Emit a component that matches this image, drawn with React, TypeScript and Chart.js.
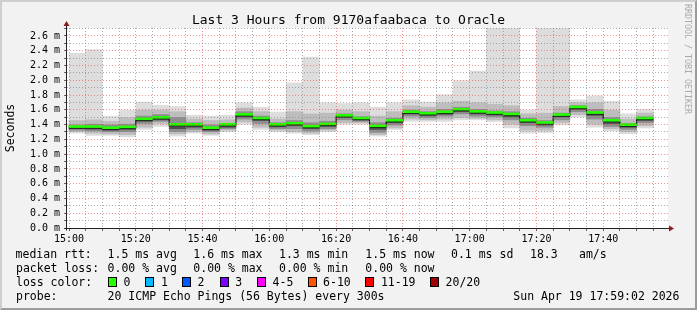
import React, { useEffect, useRef } from 'react';
import { Chart, registerables } from 'chart.js';

Chart.register(...registerables);

// 5-minute buckets (start times)
const buckets = [
  '15:00', '15:05', '15:10', '15:15', '15:20', '15:25', '15:30', '15:35', '15:40', '15:45',
  '15:50', '15:55', '16:00', '16:05', '16:10', '16:15', '16:20', '16:25', '16:30', '16:35',
  '16:40', '16:45', '16:50', '16:55', '17:00', '17:05', '17:10', '17:15', '17:20', '17:25',
  '17:30', '17:35', '17:40', '17:45', '17:50',
];

// round-trip times in milliseconds
const median = [1.355, 1.355, 1.34, 1.35, 1.46, 1.48, 1.385, 1.385, 1.34, 1.385, 1.52, 1.47, 1.385, 1.40, 1.36, 1.39, 1.507, 1.47, 1.365, 1.44, 1.555, 1.535, 1.555, 1.59, 1.56, 1.545, 1.525, 1.44, 1.41, 1.517, 1.62, 1.545, 1.44, 1.38, 1.47];
const pingMax = [2.37, 2.42, 1.52, 1.60, 1.71, 1.665, 1.65, 1.53, 1.52, 1.53, 1.70, 1.64, 1.575, 1.97, 2.32, 1.70, 1.69, 1.70, 1.64, 1.70, 1.74, 1.71, 1.81, 2.00, 2.13, 3.1, 3.2, 1.60, 3.0, 3.4, 1.74, 1.79, 1.72, 1.55, 1.61];
const p90 = [1.46, 1.47, 1.45, 1.50, 1.60, 1.60, 1.58, 1.48, 1.46, 1.47, 1.63, 1.58, 1.48, 1.58, 1.55, 1.56, 1.60, 1.58, 1.52, 1.58, 1.66, 1.64, 1.70, 1.72, 1.70, 1.68, 1.66, 1.55, 1.56, 1.65, 1.70, 1.70, 1.60, 1.48, 1.56];
const p75 = [1.40, 1.41, 1.40, 1.41, 1.52, 1.54, 1.50, 1.43, 1.40, 1.42, 1.58, 1.52, 1.43, 1.46, 1.43, 1.45, 1.55, 1.51, 1.43, 1.49, 1.60, 1.58, 1.61, 1.64, 1.61, 1.59, 1.58, 1.49, 1.46, 1.56, 1.66, 1.61, 1.50, 1.42, 1.51];
const p60 = [1.375, 1.375, 1.37, 1.37, 1.48, 1.50, 1.42, 1.40, 1.36, 1.40, 1.54, 1.49, 1.40, 1.42, 1.38, 1.41, 1.525, 1.49, 1.39, 1.46, 1.575, 1.555, 1.575, 1.61, 1.58, 1.565, 1.545, 1.46, 1.43, 1.535, 1.64, 1.57, 1.46, 1.40, 1.49];
const p40 = [1.34, 1.335, 1.32, 1.33, 1.44, 1.46, 1.34, 1.36, 1.32, 1.36, 1.50, 1.45, 1.365, 1.38, 1.34, 1.37, 1.49, 1.455, 1.33, 1.42, 1.54, 1.515, 1.535, 1.57, 1.54, 1.525, 1.50, 1.42, 1.39, 1.50, 1.60, 1.52, 1.41, 1.36, 1.45];
const p25 = [1.32, 1.31, 1.30, 1.30, 1.41, 1.44, 1.30, 1.33, 1.30, 1.34, 1.47, 1.41, 1.34, 1.34, 1.31, 1.34, 1.46, 1.44, 1.29, 1.39, 1.51, 1.49, 1.51, 1.54, 1.51, 1.50, 1.46, 1.38, 1.36, 1.46, 1.57, 1.47, 1.37, 1.33, 1.42];
const p10 = [1.30, 1.28, 1.27, 1.26, 1.36, 1.41, 1.27, 1.30, 1.27, 1.32, 1.43, 1.36, 1.32, 1.30, 1.28, 1.32, 1.42, 1.42, 1.26, 1.35, 1.47, 1.46, 1.47, 1.49, 1.48, 1.46, 1.40, 1.32, 1.32, 1.42, 1.53, 1.40, 1.34, 1.30, 1.38];
const pingMin = [1.28, 1.25, 1.25, 1.23, 1.33, 1.37, 1.24, 1.28, 1.25, 1.30, 1.40, 1.33, 1.30, 1.28, 1.26, 1.30, 1.40, 1.40, 1.24, 1.33, 1.44, 1.44, 1.44, 1.46, 1.46, 1.44, 1.35, 1.28, 1.29, 1.39, 1.50, 1.36, 1.31, 1.27, 1.35];

const xTickLabels = ['15:00', '15:20', '15:40', '16:00', '16:20', '16:40', '17:00', '17:20', '17:40'];
const yTickLabels = ['0.0 m', '0.2 m', '0.4 m', '0.6 m', '0.8 m', '1.0 m', '1.2 m', '1.4 m', '1.6 m', '1.8 m', '2.0 m', '2.2 m', '2.4 m', '2.6 m'];

const title = 'Last 3 Hours from 9170afaabaca to Oracle';
const rttLegend = ['1.5 ms avg', '1.6 ms max', '1.3 ms min', '1.5 ms now', '0.1 ms sd', '18.3', 'am/s'];
const lossLegend = ['0.00 % avg', '0.00 % max', '0.00 % min', '0.00 % now'];
const lossLabels = ['0', '1', '2', '3', '4-5', '6-10', '11-19', '20/20'];
const lossColors = ['#26ff00', '#00b8ff', '#0059ff', '#7e00ff', '#ff00ff', '#ff5500', '#ff0000', '#a10000'];
const probeText = '20 ICMP Echo Pings (56 Bytes) every 300s';
const dateText = 'Sun Apr 19 17:59:02 2026';
const watermark = 'RRDTOOL / TOBI OETIKER';

const FONT = '"DejaVu Sans Mono", monospace';

const rrdPlugin = {
  id: 'rrdFrame',
  beforeDraw(chart: any) {
    const { ctx, chartArea: a } = chart;
    ctx.save();
    ctx.fillStyle = '#ffffff';
    ctx.fillRect(a.left, a.top, a.right - a.left, a.bottom - a.top);
    ctx.restore();
  },
  afterDraw(chart: any) {
    const { ctx, chartArea: a } = chart;
    const x0 = Math.round(a.left) - 0.5;
    const y0 = Math.round(a.bottom) + 0.5;
    ctx.save();
    ctx.strokeStyle = '#222';
    ctx.lineWidth = 1;
    ctx.beginPath();
    ctx.moveTo(x0, y0 + 2);
    ctx.lineTo(x0, a.top - 3);
    ctx.moveTo(x0 - 2, y0);
    ctx.lineTo(a.right + 3, y0);
    ctx.stroke();
    ctx.fillStyle = '#8b1a1a';
    ctx.beginPath();
    ctx.moveTo(x0 - 3, a.top - 2);
    ctx.lineTo(x0 + 3, a.top - 2);
    ctx.lineTo(x0, a.top - 7);
    ctx.closePath();
    ctx.fill();
    ctx.beginPath();
    ctx.moveTo(a.right + 1, y0 - 3);
    ctx.lineTo(a.right + 1, y0 + 3);
    ctx.lineTo(a.right + 6, y0);
    ctx.closePath();
    ctx.fill();
    ctx.restore();
  },
};

export default function App() {
  const ref = useRef<HTMLCanvasElement>(null);

  useEffect(() => {
    if (!ref.current) return;
    const minutes = buckets.map((t) => {
      const [h, m] = t.split(':').map(Number);
      return (h - 15) * 60 + m;
    });
    const step = minutes[1] - minutes[0];
    const bands = [
      { lo: pingMin, hi: pingMax, color: '#dddddd' },
      { lo: p10, hi: p90, color: '#bdbdbd' },
      { lo: p25, hi: p75, color: '#8e8e8e' },
      { lo: p40, hi: p60, color: '#4c4c4c' },
    ];
    const bandSets = bands.map((b, k) => ({
      type: 'bar',
      data: minutes.map((x, i) => ({ x: x + step / 2, y: [b.lo[i], b.hi[i]] })),
      backgroundColor: b.color,
      borderWidth: 0,
      grouped: false,
      barPercentage: 1.03,
      categoryPercentage: 1,
      order: 20 - k,
    }));
    const last = minutes.length - 1;
    const medianLine = {
      type: 'line',
      data: [...minutes.map((x, i) => ({ x, y: median[i] })), { x: minutes[last] + step, y: median[last] }],
      borderColor: '#000000',
      borderWidth: 1,
      pointRadius: 0,
      stepped: true,
      fill: false,
      order: 3,
    };
    const greenBand = {
      type: 'bar',
      data: minutes.map((x, i) => ({ x: x + step / 2, y: [median[i] + 0.005, median[i] + 0.032] })),
      backgroundColor: lossColors[0],
      borderWidth: 0,
      grouped: false,
      barPercentage: 1.0,
      categoryPercentage: 1,
      order: 1,
    };

    const chart = new Chart(ref.current, {
      type: 'bar',
      data: { datasets: [...bandSets, medianLine, greenBand] as any },
      plugins: [rrdPlugin],
      options: {
        animation: false,
        responsive: false,
        devicePixelRatio: 1,
        layout: { padding: { left: 0, top: 28, right: 29, bottom: 0 } },
        plugins: { legend: { display: false }, tooltip: { enabled: false }, title: { display: false } },
        scales: {
          x: {
            type: 'linear',
            offset: false,
            min: -0.6,
            max: 179.4,
            afterFit: (s: any) => { s.height = 82; },
            afterBuildTicks: (s: any) => {
              const t = [];
              for (let v = 0; v < 179; v += 5) t.push({ value: v });
              s.ticks = t;
            },
            border: { display: false, dash: [1, 2] },
            grid: {
              z: 1,
              offset: false,
              color: (c: any) => (c.tick && c.tick.value % 20 === 0 ? 'rgba(235,60,60,0.55)' : 'rgba(120,120,120,0.6)'),
              tickColor: '#666',
              tickLength: 3,
              lineWidth: 1,
            },
            ticks: {
              autoSkip: false,
              maxRotation: 0,
              padding: 2,
              color: '#000',
              font: { family: FONT, size: 10 },
              callback: (v: any) => (Number(v) % 20 === 0 ? xTickLabels[Number(v) / 20] ?? '' : ''),
            },
          },
          y: {
            type: 'linear',
            min: 0,
            max: 2.708,
            afterFit: (s: any) => { s.width = 67; },
            afterBuildTicks: (s: any) => {
              const t = [];
              for (let k = 0; k <= 27; k++) t.push({ value: k / 10 });
              s.ticks = t;
            },
            border: { display: false, dash: [1, 2] },
            grid: {
              z: 1,
              color: (c: any) => (c.tick && Math.round(c.tick.value * 10) % 2 === 0 ? 'rgba(235,60,60,0.55)' : 'rgba(120,120,120,0.6)'),
              tickColor: '#666',
              tickLength: 3,
              lineWidth: 1,
            },
            ticks: {
              autoSkip: false,
              padding: 4,
              color: '#000',
              font: { family: FONT, size: 10 },
              callback: (v: any) => {
                const k = Math.round(Number(v) * 10);
                return k % 2 === 0 ? yTickLabels[k / 2] ?? '' : '';
              },
            },
            title: {
              display: true,
              text: 'Seconds',
              color: '#000',
              font: { family: FONT, size: 11.5 },
              padding: { top: 4, bottom: 0 },
            },
          },
        },
      } as any,
    });
    return () => chart.destroy();
  }, []);

  const rttX = [107.6, 193.3, 279, 365.3, 451, 530, 579];
  const lossX = [108, 145.3, 182, 219.6, 257, 307.5, 365.3, 430];
  const text = (s: string, left: number, top: number, extra: any = {}) => (
    <span key={s + left + top} style={{ position: 'absolute', left, top, whiteSpace: 'pre', lineHeight: '14px', ...extra }}>{s}</span>
  );

  return (
    <div style={{ position: 'absolute', left: 0, top: 0, width: 697, height: 310, background: '#f2f2f2', fontFamily: FONT, fontSize: 11.5, color: '#000', overflow: 'hidden' }}>
      <canvas ref={ref} width={697} height={310} style={{ position: 'absolute', left: 0, top: 0, width: 697, height: 310 }} />
      <div style={{ position: 'absolute', left: 0, top: 11.5, width: 697, textAlign: 'center', fontSize: 13, lineHeight: '16px', whiteSpace: 'pre' }}>{title}</div>
      <div style={{ position: 'absolute', left: 683, top: 4, writingMode: 'vertical-rl', fontSize: 8.3, color: '#aaaaaa', whiteSpace: 'pre', lineHeight: '10px' }}>{watermark}</div>
      {text('median rtt:', 15.6, 247)}
      {rttLegend.map((s, i) => text(s, rttX[i], 247))}
      {text('packet loss:', 16, 261)}
      {lossLegend.map((s, i) => text(s, rttX[i], 261))}
      {text('loss color:', 16, 275)}
      {lossLabels.map((s, i) => (
        <React.Fragment key={'l' + i}>
          <span style={{ position: 'absolute', left: lossX[i], top: 277, width: 9, height: 10, boxSizing: 'border-box', border: '1px solid #000', background: lossColors[i] }} />
          {text(s, lossX[i] + 15.6, 275)}
        </React.Fragment>
      ))}
      {text('probe:', 16, 289)}
      {text(probeText, 107.6, 289)}
      {text(dateText, 513.3, 289)}
      <div style={{ position: 'absolute', left: 0, top: 0, width: 697, height: 310, boxSizing: 'border-box', borderTop: '2px solid #cfcfcf', borderLeft: '2px solid #cfcfcf', borderRight: '2px solid #9c9c9c', borderBottom: '2px solid #9c9c9c', pointerEvents: 'none' }} />
    </div>
  );
}
